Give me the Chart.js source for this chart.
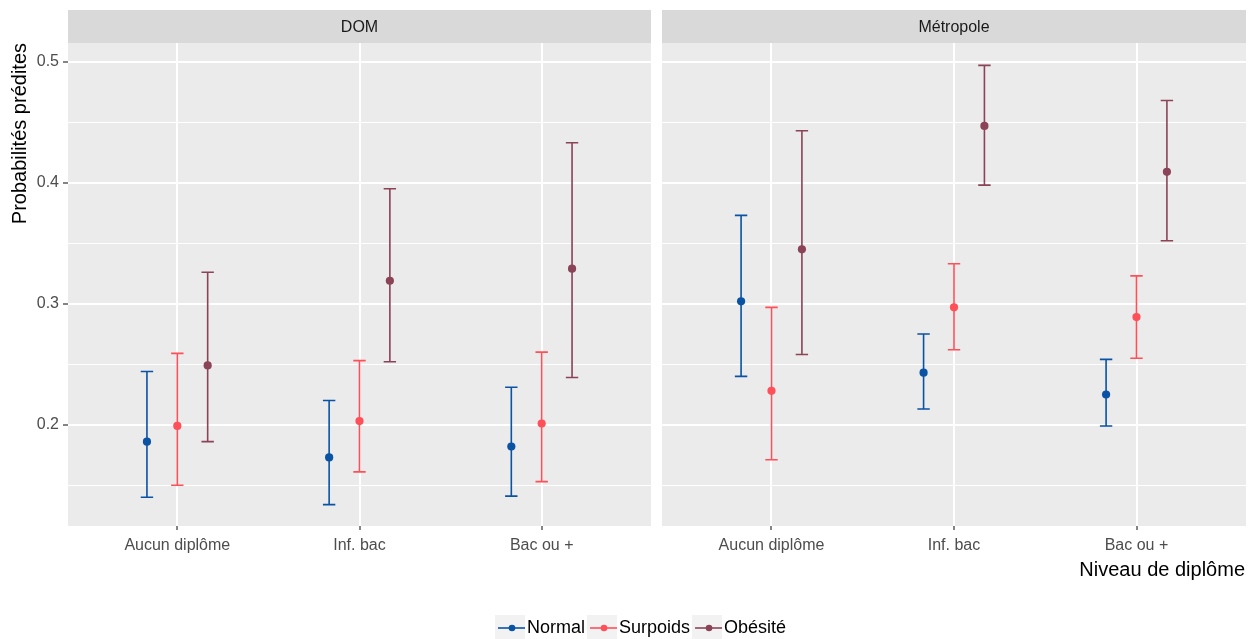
<!DOCTYPE html>
<html lang="fr">
<head>
<meta charset="utf-8">
<title>Probabilités prédites</title>
<script src="https://cdn.jsdelivr.net/npm/chart.js@4.4.1/dist/chart.umd.min.js"></script>
<style>
  html, body { margin: 0; padding: 0; background: #fff; }
  #wrap { position: relative; width: 1258px; height: 639px; }
  canvas { position: absolute; top: 0; }
  #domChart { left: 0; }
  #metroChart { left: 656px; }
</style>
</head>
<body>
<div id="wrap">
  <canvas id="domChart" width="1258" height="639"></canvas>
  <canvas id="metroChart" width="602" height="639"></canvas>
</div>
<script>
// Catégories et séries
const CATEGORIES = ['Aucun diplôme', 'Inf. bac', 'Bac ou +'];
const SERIES = ['Normal', 'Surpoids', 'Obésité'];

// Graduations de l'axe Y (majeures avec libellé, mineures sans)
const Y_TICKS = [0.2, 0.3, 0.4, 0.5];
const Y_MINOR = [0.15, 0.25, 0.35, 0.45];
const Y_MIN = 0.1163;
const Y_MAX = 0.5155;

// DOM : estimations, bornes basses, bornes hautes
const DOM_NORMAL = [0.186, 0.173, 0.182];
const DOM_NORMAL_LO = [0.140, 0.134, 0.141];
const DOM_NORMAL_HI = [0.244, 0.220, 0.231];
const DOM_SURPOIDS = [0.199, 0.203, 0.201];
const DOM_SURPOIDS_LO = [0.150, 0.161, 0.153];
const DOM_SURPOIDS_HI = [0.259, 0.253, 0.260];
const DOM_OBESITE = [0.249, 0.319, 0.329];
const DOM_OBESITE_LO = [0.186, 0.252, 0.239];
const DOM_OBESITE_HI = [0.326, 0.395, 0.433];

// Métropole
const METRO_NORMAL = [0.302, 0.243, 0.225];
const METRO_NORMAL_LO = [0.240, 0.213, 0.199];
const METRO_NORMAL_HI = [0.373, 0.275, 0.254];
const METRO_SURPOIDS = [0.228, 0.297, 0.289];
const METRO_SURPOIDS_LO = [0.171, 0.262, 0.255];
const METRO_SURPOIDS_HI = [0.297, 0.333, 0.323];
const METRO_OBESITE = [0.345, 0.447, 0.409];
const METRO_OBESITE_LO = [0.258, 0.398, 0.352];
const METRO_OBESITE_HI = [0.443, 0.497, 0.468];

const FONT = "'Liberation Sans', Arial, sans-serif";
const COLORS = ['#0a52a3', '#ff4f58', '#8b4358'];
const DODGE = [-1 / 6, 0, 1 / 6];
const CAP = 0.034;

const isMajor = v => Y_TICKS.some(t => Math.abs(t - v) < 1e-9);
const Y_GRID = Y_MINOR.concat(Y_TICKS).sort((a, b) => a - b);

/**
 * Construit les jeux de données d'un panneau
 */
function buildDatasets(est, lo, hi) {
    return SERIES.map((name, s) => ({
        label: name,
        data: CATEGORIES.map((c, i) => ({ x: i + 1 + DODGE[s], y: est[s][i] })),
        lo: lo[s],
        hi: hi[s],
        backgroundColor: COLORS[s],
        borderColor: COLORS[s],
        borderWidth: 0,
        pointRadius: 4.1,
        showLine: false
    }));
}

// Fond gris du panneau + bandeau du titre de facette
const panelPlugin = {
    id: 'panel',
    beforeDraw(chart, args, opts) {
        const { ctx, chartArea: a } = chart;
        ctx.save();
        ctx.fillStyle = '#ebebeb';
        ctx.fillRect(a.left, a.top, a.right - a.left, a.bottom - a.top);
        ctx.fillStyle = '#d9d9d9';
        ctx.fillRect(a.left, 10, a.right - a.left, a.top - 10);
        ctx.fillStyle = '#1a1a1a';
        ctx.font = '16px ' + FONT;
        ctx.textAlign = 'center';
        ctx.textBaseline = 'middle';
        ctx.fillText(opts.title, (a.left + a.right) / 2, 28);
        ctx.restore();
    }
};

// Barres d'erreur dessinées avec les échelles du graphique
const errorBarPlugin = {
    id: 'errorBars',
    beforeDatasetsDraw(chart) {
        const { ctx, scales: { x, y } } = chart;
        ctx.save();
        ctx.lineWidth = 1.6;
        chart.data.datasets.forEach(ds => {
            ctx.strokeStyle = ds.borderColor;
            ds.data.forEach((pt, i) => {
                const px = x.getPixelForValue(pt.x);
                const yLo = y.getPixelForValue(ds.lo[i]);
                const yHi = y.getPixelForValue(ds.hi[i]);
                const c1 = x.getPixelForValue(pt.x - CAP);
                const c2 = x.getPixelForValue(pt.x + CAP);
                ctx.beginPath();
                ctx.moveTo(px, yLo); ctx.lineTo(px, yHi);
                ctx.moveTo(c1, yLo); ctx.lineTo(c2, yLo);
                ctx.moveTo(c1, yHi); ctx.lineTo(c2, yHi);
                ctx.stroke();
            });
        });
        ctx.restore();
    }
};

// Titres d'axes et légende (dessinés sur le canevas de gauche, pleine largeur)
const decorPlugin = {
    id: 'decor',
    afterDraw(chart) {
        const { ctx } = chart;
        ctx.save();
        ctx.fillStyle = '#000';
        ctx.font = '20px ' + FONT;
        ctx.textBaseline = 'middle';
        // titre Y
        ctx.save();
        ctx.translate(20, 43);
        ctx.rotate(-Math.PI / 2);
        ctx.textAlign = 'right';
        ctx.fillText('Probabilités prédites', 0, 0);
        ctx.restore();
        // titre X
        ctx.textAlign = 'right';
        ctx.fillText('Niveau de diplôme', 1245, 570);

        // légende
        ctx.font = '18px ' + FONT;
        ctx.textAlign = 'left';
        let xPos = 495;
        const yc = 628;
        SERIES.forEach((name, s) => {
            ctx.fillStyle = '#f2f2f2';
            ctx.fillRect(xPos, yc - 13, 30, 26);
            ctx.strokeStyle = COLORS[s];
            ctx.lineWidth = 1.6;
            ctx.beginPath();
            ctx.moveTo(xPos + 3, yc); ctx.lineTo(xPos + 30, yc);
            ctx.stroke();
            ctx.fillStyle = COLORS[s];
            ctx.beginPath();
            ctx.arc(xPos + 17, yc, 3.3, 0, Math.PI * 2);
            ctx.fill();
            ctx.fillStyle = '#000';
            ctx.fillText(name, xPos + 32, yc);
            xPos += 32 + ctx.measureText(name).width + 2;
        });
        ctx.restore();
    }
};

/**
 * Crée un panneau (facette)
 */
function makePanel(canvasId, title, datasets, showY, padding, extraPlugins) {
    const ctx = document.getElementById(canvasId).getContext('2d');
    return new Chart(ctx, {
        type: 'scatter',
        data: { datasets: datasets },
        plugins: [panelPlugin, errorBarPlugin].concat(extraPlugins),
        options: {
            responsive: false,
            animation: false,
            events: [],
            devicePixelRatio: 1,
            layout: { padding: padding },
            plugins: {
                legend: { display: false },
                tooltip: { enabled: false },
                panel: { title: title }
            },
            scales: {
                x: {
                    type: 'linear',
                    min: 0.4,
                    max: 3.6,
                    afterBuildTicks: s => { s.ticks = CATEGORIES.map((c, i) => ({ value: i + 1 })); },
                    afterFit: s => { s.height = 113; },
                    border: { display: false },
                    grid: {
                        color: '#ffffff',
                        lineWidth: 2,
                        tickColor: '#333333',
                        tickLength: 4,
                        tickWidth: 1.2
                    },
                    ticks: {
                        autoSkip: false,
                        maxRotation: 0,
                        padding: 6,
                        color: '#4d4d4d',
                        font: { family: FONT, size: 16 },
                        callback: v => CATEGORIES[Math.round(v) - 1]
                    }
                },
                y: {
                    type: 'linear',
                    min: Y_MIN,
                    max: Y_MAX,
                    afterBuildTicks: s => { s.ticks = Y_GRID.map(v => ({ value: v })); },
                    afterFit: s => { s.width = showY ? 68 : 6; },
                    border: { display: false },
                    grid: {
                        color: '#ffffff',
                        lineWidth: c => isMajor(c.tick.value) ? 2 : 1.1,
                        drawTicks: showY,
                        tickColor: c => isMajor(c.tick.value) ? '#333333' : 'rgba(0,0,0,0)',
                        tickLength: 5,
                        tickWidth: 1.2
                    },
                    ticks: {
                        display: showY,
                        autoSkip: false,
                        padding: 4,
                        color: '#4d4d4d',
                        font: { family: FONT, size: 16 },
                        callback: v => isMajor(v) ? v.toFixed(1) : ''
                    }
                }
            }
        }
    });
}

makePanel('domChart', 'DOM',
    buildDatasets([DOM_NORMAL, DOM_SURPOIDS, DOM_OBESITE],
                  [DOM_NORMAL_LO, DOM_SURPOIDS_LO, DOM_OBESITE_LO],
                  [DOM_NORMAL_HI, DOM_SURPOIDS_HI, DOM_OBESITE_HI]),
    true, { top: 43, right: 607, bottom: 0, left: 0 }, [decorPlugin]);

makePanel('metroChart', 'Métropole',
    buildDatasets([METRO_NORMAL, METRO_SURPOIDS, METRO_OBESITE],
                  [METRO_NORMAL_LO, METRO_SURPOIDS_LO, METRO_OBESITE_LO],
                  [METRO_NORMAL_HI, METRO_SURPOIDS_HI, METRO_OBESITE_HI]),
    false, { top: 43, right: 12, bottom: 0, left: 0 }, []);
</script>
</body>
</html>
